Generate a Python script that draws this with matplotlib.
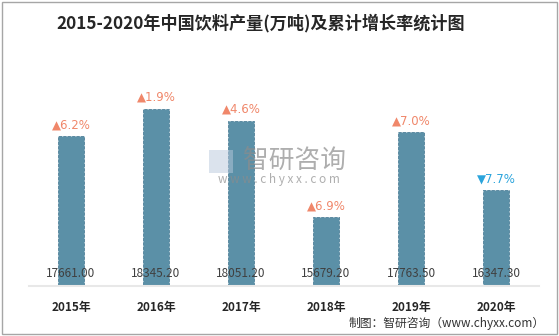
import matplotlib.pyplot as plt
from matplotlib.patches import Rectangle

plt.rcParams['font.family'] = ['Noto Sans CJK SC', 'DejaVu Sans']

# data
years = ['2015年', '2016年', '2017年', '2018年', '2019年', '2020年']
output = [17661.00, 18345.20, 18051.20, 15679.20, 17763.50, 16347.30]
growth = ['6.2%', '1.9%', '4.6%', '6.9%', '7.0%', '7.7%']
rising = [True, True, True, True, True, False]

fig = plt.figure(figsize=(5.59, 3.36), dpi=100)
ax = fig.add_axes([28.5 / 559, 1 - 285.7 / 336, 510 / 559, 244.6 / 336])

x = range(len(years))
ax.bar(x, output, width=26 / 85, color='#5B90A7', edgecolor='#4F8099', linewidth=0.6,
       linestyle='--', bottom=0)
ax.set_ylim(14000, 20000)
ax.set_xlim(-0.5, len(years) - 0.5)

for i, v in enumerate(output):
    ax.text(i, 14000 + 300, f'{v:.2f}', ha='center', va='center', fontsize=8.5, color='#404040')
    if rising[i]:
        ax.text(i, v + 120, '▲' + growth[i], ha='center', va='bottom', fontsize=8.5,
                color='#F0876A', family=['DejaVu Sans'])
    else:
        ax.text(i, v + 120, '▼' + growth[i], ha='center', va='bottom', fontsize=8.5,
                color='#2BA4DC', family=['DejaVu Sans'])

ax.set_xticks(list(x))
ax.set_xticklabels(years, fontsize=8.5, fontweight='bold', color='#262626')
ax.tick_params(axis='x', length=0, pad=11)
ax.set_yticks([])
for s in ['top', 'right', 'left']:
    ax.spines[s].set_visible(False)
ax.spines['bottom'].set_color('#E8E8E8')
ax.spines['bottom'].set_linewidth(1.5)

# title
fig.text(260.5 / 559, 1 - 23 / 336, '2015-2020年中国饮料产量(万吨)及累计增长率统计图', ha='center', va='center',
         fontsize=12.3, fontweight='bold', color='#262626')

# watermark
fig.text(295 / 559, 1 - 161 / 336, '智研咨询', ha='center', va='center', fontsize=18.5,
         color='#8C8C8C', alpha=0.7)
fig.text(279 / 559, 1 - 180 / 336, 'w w w . c h y x x . c o m', ha='center', va='center',
         fontsize=8.5, color='#8C8C8C', alpha=0.7)
fig.patches.append(Rectangle((209 / 559, 1 - 173 / 336), 24 / 559, 23 / 336,
                             transform=fig.transFigure, facecolor='#B8C8DC', alpha=0.5,
                             edgecolor='none'))

# source
fig.text(545 / 559, 1 - 323 / 336, '制图：智研咨询（www.chyxx.com）', ha='right', va='center',
         fontsize=8.5, color='#333333')

# border
fig.patches.append(Rectangle((2 / 559, 2 / 336), 555 / 559, 332 / 336, transform=fig.transFigure,
                             fill=False, edgecolor='#A6A6A6', linewidth=1))

fig.savefig('out.png', dpi=100)
